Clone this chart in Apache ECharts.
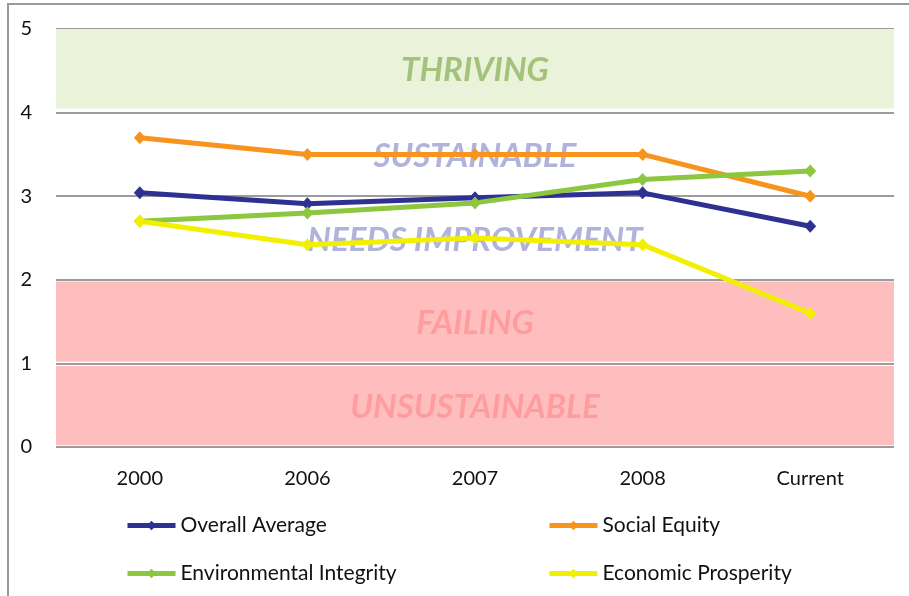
<!DOCTYPE html>
<html>
<head>
<meta charset="utf-8">
<script src="https://cdn.jsdelivr.net/npm/echarts@6/dist/echarts.min.js"></script>
<style>
  html, body { margin: 0; padding: 0; background: #fff; }
  #chart { width: 909px; height: 596px; }
</style>
</head>
<body>
<div id="chart"></div>
<script>
  var categories = ['2000', '2006', '2007', '2008', 'Current'];
  var overallAverage = [3.04, 2.91, 2.98, 3.04, 2.64];
  var socialEquity = [3.7, 3.5, 3.5, 3.5, 3.0];
  var environmentalIntegrity = [2.7, 2.8, 2.92, 3.2, 3.3];
  var economicProsperity = [2.7, 2.42, 2.5, 2.42, 1.6];
  // band ranges: [from, to] and the label for each band
  var bandLabels = ['UNSUSTAINABLE', 'FAILING', 'NEEDS IMPROVEMENT', 'SUSTAINABLE', 'THRIVING'];
  var bandRanges = [[0.02, 0.97], [1.02, 1.98], [2, 3], [3, 4], [4.05, 5]];

  var bandFill = ['#FFBEBE', '#FFBEBE', 'rgba(0,0,0,0)', 'rgba(0,0,0,0)', '#EAF3DA'];
  var bandText = ['#FF9C9E', '#FF9C9E', '#B1B3DA', '#B1B3DA', '#A3C37A'];

  var chart = echarts.init(document.getElementById('chart'));

  var areas = bandRanges.map(function (r, i) {
    return [
      { yAxis: r[0], name: bandLabels[i], itemStyle: { color: bandFill[i] },
        label: { color: bandText[i] } },
      { yAxis: r[1] }
    ];
  });

  function lineSeries(name, data, color, extra) {
    var s = {
      name: name,
      type: 'line',
      data: data,
      symbol: 'diamond',
      symbolSize: [12, 13],
      showAllSymbol: true,
      lineStyle: { width: 5, color: color },
      itemStyle: { color: color },
      z: 3
    };
    return Object.assign(s, extra || {});
  }

  var legendText = { fontFamily: 'Lato', fontSize: 21, color: '#111' };
  var legendBase = {
    orient: 'vertical',
    top: 510,
    itemWidth: 48,
    itemHeight: 12,
    itemGap: 27,
    lineStyle: { width: 5 },
    textStyle: legendText
  };

  chart.setOption({
    animation: false,
    graphic: [{
      type: 'rect',
      shape: { x: 8, y: 4, width: 1200, height: 1200 },
      style: { fill: 'none', stroke: '#9a9a9a', lineWidth: 2 },
      silent: true
    }],
    grid: { left: 56, right: 15, top: 29, bottom: 149 },
    legend: [
      Object.assign({ data: ['Overall Average', 'Environmental Integrity'], left: 120 }, legendBase),
      Object.assign({ data: ['Social Equity', 'Economic Prosperity'], left: 542 }, legendBase)
    ],
    xAxis: {
      type: 'category',
      data: categories,
      boundaryGap: true,
      axisLine: { show: false },
      axisTick: { show: false },
      axisLabel: { fontFamily: 'Lato', fontSize: 20, color: '#111', margin: 22 }
    },
    yAxis: {
      type: 'value',
      min: 0,
      max: 5,
      interval: 1,
      axisLine: { show: false },
      axisTick: { show: false },
      axisLabel: { fontFamily: 'Lato', fontSize: 20, color: '#111', margin: 24 },
      splitLine: { lineStyle: { color: '#9c9c9c', width: 2 } }
    },
    series: [
      lineSeries('Overall Average', overallAverage, '#2E3192', {
        markArea: {
          silent: true,
          z: 1,
          label: {
            show: true,
            position: 'inside',
            offset: [0, 2],
            fontFamily: 'Lato',
            fontStyle: 'italic',
            fontWeight: 'bold',
            fontSize: 33
          },
          data: areas
        }
      }),
      lineSeries('Social Equity', socialEquity, '#F7941E'),
      lineSeries('Environmental Integrity', environmentalIntegrity, '#8DC63F'),
      lineSeries('Economic Prosperity', economicProsperity, '#F2F000')
    ]
  });
</script>
</body>
</html>
